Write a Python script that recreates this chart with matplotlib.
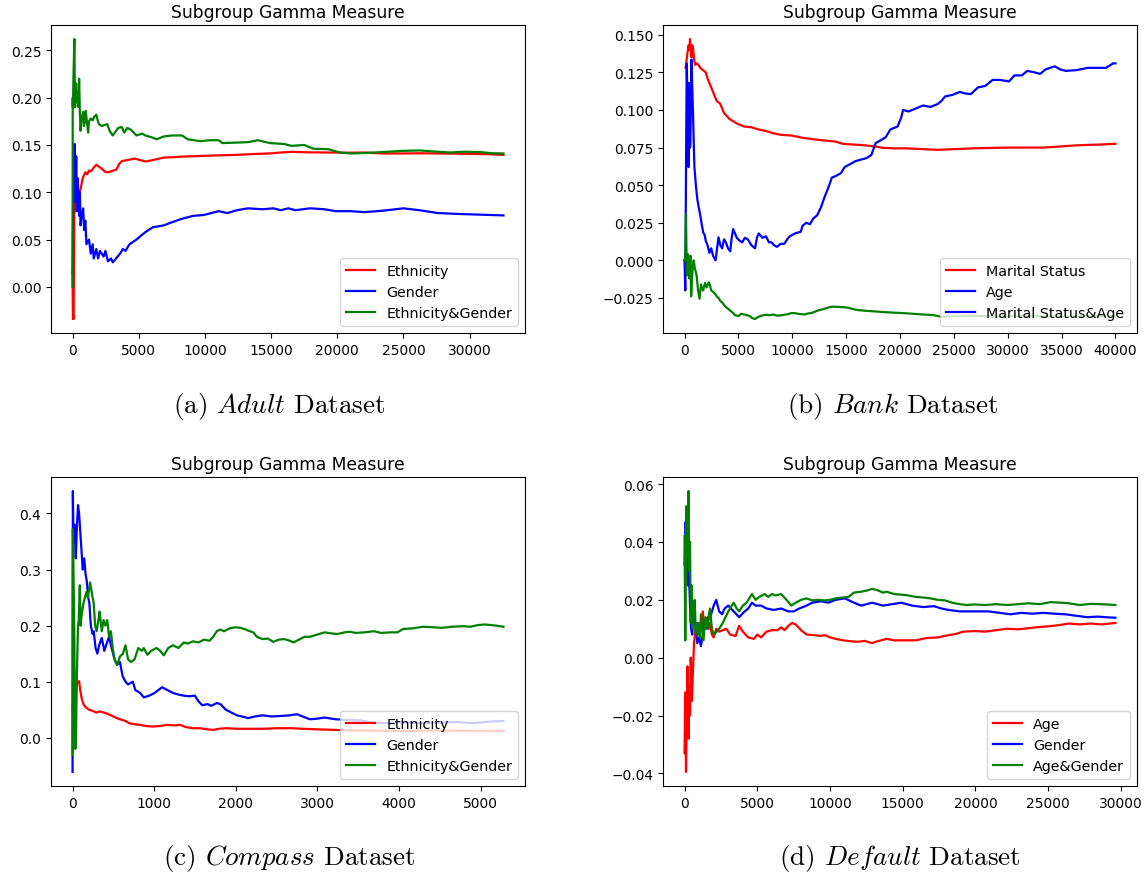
import matplotlib.pyplot as plt

plt.rcParams['mathtext.fontset'] = 'cm'

# ---- Adult ----
adult_eth_x = [0, 28, 55, 83, 138, 193, 248, 304, 386, 469, 552, 635, 718, 828, 966, 1104, 1242, 1380,
               1600, 1794, 1990, 2208, 2430, 2622, 2900, 3312, 3530, 3726, 4140, 4692, 5100, 5520, 6070,
               6900, 7590, 8280, 9100, 9940, 11040, 12420, 13800, 14900, 15730, 16560, 17940, 19320,
               20700, 22080, 23460, 24840, 26220, 27600, 28980, 30360, 31460, 32560]
adult_eth = [0.015, -0.034, -0.030, -0.034, 0.090, 0.080, 0.100, 0.082, 0.095, 0.085, 0.100, 0.105, 0.112,
             0.117, 0.121, 0.119, 0.123, 0.122, 0.126, 0.129, 0.127, 0.125, 0.122, 0.121, 0.122, 0.124,
             0.130, 0.133, 0.134, 0.1356, 0.134, 0.1325, 0.134, 0.1367, 0.137, 0.1377, 0.138, 0.1385,
             0.139, 0.1395, 0.1405, 0.141, 0.142, 0.1427, 0.1422, 0.142, 0.1418, 0.142, 0.141, 0.141,
             0.1412, 0.141, 0.1408, 0.1405, 0.1402, 0.1395]

adult_gen_x = [0, 28, 55, 83, 110, 166, 193, 221, 276, 330, 386, 440, 497, 552, 607, 690, 800, 883, 966,
               1050, 1242, 1380, 1520, 1600, 1794, 1932, 2070, 2346, 2484, 2677, 2900, 3036, 3174, 3400,
               3590, 3800, 4000, 4300, 4830, 5250, 5520, 6070, 6500, 6900, 7450, 8280, 9100, 9940, 11040,
               11700, 12420, 13250, 14350, 15180, 15730, 16300, 16840, 17940, 19040, 19870, 20980, 22080,
               23460, 25000, 26220, 27600, 29260, 30360, 32560]
adult_gen = [0.015, 0.060, 0.110, 0.090, 0.130, 0.151, 0.120, 0.090, 0.138, 0.080, 0.115, 0.100, 0.075,
             0.100, 0.065, 0.075, 0.083, 0.060, 0.070, 0.045, 0.050, 0.035, 0.045, 0.030, 0.040, 0.030,
             0.038, 0.032, 0.038, 0.027, 0.030, 0.026, 0.028, 0.032, 0.035, 0.040, 0.038, 0.045, 0.050,
             0.055, 0.058, 0.063, 0.064, 0.065, 0.068, 0.072, 0.075, 0.076, 0.080, 0.078, 0.081, 0.083,
             0.082, 0.083, 0.081, 0.083, 0.081, 0.083, 0.082, 0.080, 0.080, 0.079, 0.0805, 0.083, 0.081,
             0.078, 0.077, 0.0765, 0.0755]

adult_both_x = [0, 14, 28, 55, 83, 138, 165, 193, 220, 276, 330, 386, 440, 497, 552, 607, 660, 718, 800,
                855, 940, 1000, 1104, 1180, 1242, 1380, 1520, 1650, 1794, 1900, 2000, 2208, 2400, 2622,
                2800, 3036, 3300, 3450, 3726, 3900, 4140, 4420, 4830, 5250, 5500, 6000, 6350, 6900, 7500,
                8280, 8700, 9660, 10400, 11040, 11320, 12420, 13300, 14000, 14900, 16000, 16560, 17500,
                18200, 19320, 20200, 21000, 22080, 23460, 24840, 26220, 27400, 28500, 29600, 30800,
                31700, 32560]
adult_both = [0.0, 0.200, 0.190, 0.210, 0.230, 0.262, 0.220, 0.190, 0.205, 0.215, 0.195, 0.205, 0.190,
              0.220, 0.185, 0.165, 0.175, 0.180, 0.185, 0.170, 0.175, 0.186, 0.172, 0.163, 0.175, 0.178,
              0.176, 0.180, 0.182, 0.176, 0.172, 0.170, 0.171, 0.172, 0.165, 0.160, 0.165, 0.168, 0.169,
              0.163, 0.168, 0.166, 0.160, 0.162, 0.160, 0.158, 0.156, 0.159, 0.160, 0.160, 0.156, 0.154,
              0.155, 0.155, 0.152, 0.1525, 0.153, 0.155, 0.152, 0.151, 0.149, 0.150, 0.146, 0.1455,
              0.142, 0.141, 0.1415, 0.1425, 0.1437, 0.1442, 0.143, 0.142, 0.1428, 0.1425, 0.1412, 0.141]

# ---- Bank ----
bank_mar_x = [100, 170, 271, 373, 441, 509, 577, 645, 712, 780, 882, 984, 1119, 1289, 1459, 1628, 1798,
              1967, 2137, 2307, 2646, 2985, 3324, 3663, 4172, 4851, 5529, 6207, 6886, 7564, 8243, 8921,
              9939, 10956, 11974, 12991, 14009, 14687, 15705, 16723, 17740, 18419, 19436, 20454, 21471,
              22828, 23507, 25203, 26899, 28595, 30291, 31987, 33343, 35039, 36396, 38431, 40000]
bank_mar = [0.128, 0.132, 0.138, 0.143, 0.140, 0.1472, 0.141, 0.135, 0.143, 0.142, 0.134, 0.130, 0.131,
            0.130, 0.128, 0.127, 0.126, 0.125, 0.121, 0.118, 0.112, 0.106, 0.104, 0.098, 0.094, 0.091,
            0.089, 0.0885, 0.087, 0.086, 0.0845, 0.0835, 0.083, 0.0815, 0.0805, 0.0797, 0.079, 0.0775,
            0.077, 0.0765, 0.0757, 0.0748, 0.0745, 0.0745, 0.0742, 0.0737, 0.0735, 0.074, 0.0745,
            0.0748, 0.075, 0.075, 0.075, 0.0758, 0.0765, 0.077, 0.0775]

bank_age_x = [0, 68, 136, 204, 305, 373, 441, 509, 543, 645, 712, 780, 848, 916, 1052, 1187, 1323, 1459,
              1594, 1730, 1866, 1967, 2137, 2307, 2476, 2646, 2883, 3019, 3155, 3324, 3494, 3663, 3833,
              4036, 4240, 4376, 4511, 4681, 4851, 5122, 5359, 5597, 5868, 6207, 6547, 6716, 6886, 7225,
              7564, 7836, 8073, 8311, 8582, 8921, 9260, 9532, 9769, 10278, 10787, 10956, 11295, 11635,
              11974, 12313, 12652, 12991, 13331, 13670, 14009, 14518, 14857, 15366, 15875, 16384, 16892,
              17333, 17740, 18249, 18690, 19097, 19775, 20115, 20284, 20793, 21471, 22149, 22828, 23507,
              23846, 24185, 24864, 25542, 26051, 26560, 27238, 27917, 28595, 29273, 30121, 30630, 31309,
              31818, 32496, 33005, 33514, 34362, 34871, 35379, 36396, 37414, 38431, 39109, 39788, 40000]
bank_age = [0.0, -0.020, 0.060, 0.131, 0.090, 0.062, 0.118, 0.075, 0.080, 0.1335, 0.115, 0.100, 0.080,
            0.062, 0.050, 0.0407, 0.035, 0.030, 0.024, 0.0186, 0.017, 0.013, 0.010, 0.005, 0.008, 0.003,
            0.0, 0.008, 0.0153, 0.010, 0.008, 0.014, 0.012, 0.008, 0.006, 0.015, 0.0208, 0.018, 0.015,
            0.013, 0.012, 0.015, 0.014, 0.010, 0.008, 0.015, 0.0179, 0.015, 0.016, 0.012, 0.012, 0.010,
            0.009, 0.011, 0.011, 0.014, 0.016, 0.018, 0.019, 0.023, 0.025, 0.024, 0.028, 0.030, 0.035,
            0.042, 0.048, 0.055, 0.056, 0.058, 0.062, 0.064, 0.066, 0.067, 0.068, 0.070, 0.078, 0.080,
            0.082, 0.087, 0.089, 0.095, 0.100, 0.099, 0.101, 0.103, 0.102, 0.104, 0.106, 0.109, 0.110,
            0.112, 0.111, 0.1105, 0.115, 0.116, 0.120, 0.120, 0.119, 0.123, 0.123, 0.126, 0.125, 0.124,
            0.127, 0.129, 0.127, 0.126, 0.1265, 0.128, 0.128, 0.128, 0.131, 0.131]

bank_both_x = [0, 68, 136, 170, 237, 305, 373, 441, 475, 543, 611, 679, 712, 780, 848, 950, 1052, 1119,
               1255, 1391, 1526, 1628, 1730, 1900, 2069, 2239, 2340, 2476, 2646, 2815, 2985, 3155, 3324,
               3494, 3833, 4172, 4511, 4681, 5020, 5257, 5529, 5800, 6038, 6309, 6547, 6784, 7056, 7293,
               7564, 7903, 8243, 8582, 8921, 9260, 9599, 9939, 10278, 10617, 11126, 11465, 11804, 12313,
               12652, 12991, 13500, 13839, 14348, 14857, 15196, 15705, 16044, 16723, 17740, 18758, 19436,
               20115, 21132, 22149, 23167, 23846, 24864, 26221, 27578, 28934, 30291, 31987, 33683, 35039,
               36396, 38092, 40000]
bank_both = [0.0, 0.002, 0.0307, 0.010, -0.010, 0.004, 0.002, -0.012, -0.008, 0.003, -0.024, -0.015,
             -0.010, -0.003, 0.0, -0.005, -0.008, -0.010, -0.020, -0.0256, -0.016, -0.019, -0.020, -0.015,
             -0.018, -0.0146, -0.016, -0.020, -0.021, -0.022, -0.024, -0.025, -0.027, -0.028, -0.031,
             -0.033, -0.035, -0.0365, -0.037, -0.0355, -0.036, -0.0365, -0.037, -0.0385, -0.039, -0.0378,
             -0.037, -0.0365, -0.0362, -0.0365, -0.036, -0.0368, -0.0366, -0.0362, -0.0358, -0.035,
             -0.0352, -0.0356, -0.036, -0.0353, -0.035, -0.0335, -0.0328, -0.0322, -0.031, -0.0308,
             -0.031, -0.0312, -0.0315, -0.0325, -0.033, -0.0335, -0.034, -0.0345, -0.0348, -0.035,
             -0.0355, -0.036, -0.0365, -0.0375, -0.0372, -0.037, -0.037, -0.0375, -0.0372, -0.037,
             -0.0372, -0.0375, -0.0372, -0.037, -0.0372]

# ---- Compass ----
comp_eth_x = [0, 18, 40, 58, 80, 94, 112, 134, 157, 201, 246, 291, 335, 380, 425, 470, 514, 559, 604,
              648, 693, 760, 827, 894, 984, 1073, 1163, 1252, 1319, 1386, 1476, 1565, 1655, 1722, 1789,
              1878, 2012, 2191, 2325, 2504, 2683, 2817, 2996, 3220, 3399, 3578, 4025, 4472, 4919, 5278]
comp_eth = [0.050, 0.075, 0.090, 0.098, 0.101, 0.085, 0.070, 0.060, 0.055, 0.050, 0.048, 0.045, 0.047,
            0.045, 0.043, 0.040, 0.037, 0.034, 0.032, 0.030, 0.026, 0.024, 0.023, 0.021, 0.020, 0.021,
            0.023, 0.022, 0.023, 0.019, 0.017, 0.017, 0.015, 0.014, 0.016, 0.017, 0.016, 0.016, 0.016,
            0.017, 0.017, 0.016, 0.015, 0.014, 0.013, 0.013, 0.012, 0.013, 0.012, 0.012]

comp_gen_x = [0, 2, 4, 9, 13, 18, 27, 36, 40, 49, 58, 67, 80, 98, 116, 125, 143, 161, 174, 192, 206,
              224, 246, 259, 282, 304, 326, 358, 389, 411, 447, 470, 514, 546, 581, 613, 649, 680, 738,
              769, 827, 872, 939, 1006, 1051, 1096, 1163, 1230, 1297, 1364, 1431, 1498, 1543, 1588,
              1655, 1700, 1767, 1811, 1878, 1945, 2012, 2102, 2147, 2236, 2325, 2437, 2571, 2661, 2750,
              2817, 2907, 2996, 3086, 3220, 3332, 3533, 3667, 3846, 4025, 4249, 4472, 4696, 4919, 5120,
              5278]
comp_gen = [-0.061, 0.200, 0.440, 0.380, 0.370, 0.375, 0.380, 0.330, 0.320, 0.360, 0.390, 0.415, 0.400,
            0.360, 0.320, 0.300, 0.320, 0.290, 0.280, 0.250, 0.240, 0.200, 0.185, 0.190, 0.160, 0.150,
            0.165, 0.178, 0.155, 0.165, 0.180, 0.165, 0.140, 0.130, 0.135, 0.110, 0.100, 0.095, 0.100,
            0.085, 0.080, 0.072, 0.075, 0.080, 0.085, 0.090, 0.085, 0.080, 0.077, 0.075, 0.074, 0.075,
            0.065, 0.058, 0.060, 0.057, 0.062, 0.060, 0.050, 0.045, 0.040, 0.037, 0.035, 0.038, 0.040,
            0.038, 0.039, 0.040, 0.042, 0.038, 0.033, 0.034, 0.036, 0.033, 0.032, 0.031, 0.027, 0.026,
            0.028, 0.026, 0.027, 0.028, 0.026, 0.029, 0.030]

comp_both_x = [0, 4, 13, 22, 27, 31, 40, 45, 54, 67, 76, 89, 98, 112, 134, 170, 188, 215, 246, 259, 277,
               295, 322, 331, 358, 380, 402, 425, 447, 470, 492, 514, 546, 581, 617, 648, 680, 716, 760,
               805, 850, 872, 917, 961, 1029, 1073, 1118, 1172, 1230, 1297, 1364, 1409, 1476, 1543, 1610,
               1677, 1722, 1767, 1811, 1856, 1923, 1990, 2057, 2124, 2169, 2214, 2258, 2325, 2392, 2459,
               2526, 2594, 2661, 2706, 2773, 2840, 2907, 2996, 3086, 3175, 3243, 3332, 3399, 3466, 3578,
               3690, 3779, 3891, 3980, 4047, 4159, 4293, 4427, 4517, 4651, 4785, 4875, 4964, 5053, 5187,
               5278]
comp_both = [-0.031, 0.372, 0.280, 0.180, 0.050, -0.020, -0.018, 0.030, 0.120, 0.200, 0.210, 0.272,
             0.200, 0.220, 0.240, 0.260, 0.250, 0.277, 0.250, 0.240, 0.200, 0.190, 0.215, 0.225, 0.190,
             0.210, 0.200, 0.210, 0.180, 0.190, 0.160, 0.140, 0.130, 0.145, 0.150, 0.165, 0.140, 0.135,
             0.140, 0.160, 0.155, 0.160, 0.148, 0.155, 0.160, 0.155, 0.147, 0.160, 0.165, 0.160, 0.170,
             0.168, 0.172, 0.170, 0.175, 0.173, 0.180, 0.190, 0.193, 0.190, 0.195, 0.197, 0.196, 0.193,
             0.190, 0.188, 0.180, 0.176, 0.177, 0.171, 0.175, 0.176, 0.173, 0.170, 0.175, 0.180, 0.180,
             0.184, 0.188, 0.186, 0.185, 0.188, 0.189, 0.187, 0.188, 0.190, 0.187, 0.188, 0.188, 0.194,
             0.195, 0.198, 0.197, 0.196, 0.198, 0.199, 0.198, 0.201, 0.202, 0.200, 0.198]

# ---- Default ----
def_age_x = [0, 50, 100, 150, 200, 275, 325, 376, 426, 501, 576, 651, 751, 876, 1002, 1127, 1252, 1377,
             1578, 1678, 1753, 1878, 2003, 2178, 2379, 2629, 2880, 3130, 3506, 3756, 4006, 4382, 4758,
             5008, 5258, 5634, 6010, 6385, 6636, 6886, 7136, 7387, 7637, 8013, 8388, 8889, 9390, 9640,
             10016, 10392, 10892, 11393, 11894, 12395, 12896, 13146, 13522, 13897, 14398, 15149, 15900,
             16652, 17403, 18154, 18655, 19156, 19907, 20658, 21409, 22160, 22912, 23663, 24164, 24915,
             25666, 26417, 27168, 27920, 28671, 29622]
def_age = [-0.033, -0.012, -0.0395, -0.020, -0.003, -0.028, -0.010, -0.020, 0.0, -0.015, -0.005, 0.005,
           0.010, 0.008, 0.012, 0.010, 0.016, 0.010, 0.014, 0.010, 0.012, 0.008, 0.007, 0.010, 0.009,
           0.0095, 0.010, 0.008, 0.0075, 0.011, 0.009, 0.007, 0.0065, 0.008, 0.007, 0.009, 0.0095,
           0.0095, 0.0105, 0.0095, 0.011, 0.012, 0.0115, 0.0095, 0.008, 0.0078, 0.0075, 0.0078, 0.007,
           0.0065, 0.006, 0.0057, 0.0055, 0.0058, 0.005, 0.0055, 0.006, 0.0065, 0.006, 0.006, 0.006,
           0.0068, 0.007, 0.0078, 0.0082, 0.009, 0.0092, 0.009, 0.0095, 0.010, 0.0098, 0.0102, 0.0105,
           0.0108, 0.0112, 0.0118, 0.0115, 0.0118, 0.0115, 0.012]

def_gen_x = [0, 75, 150, 225, 300, 376, 451, 526, 626, 751, 876, 1002, 1127, 1252, 1377, 1503, 1678,
             1828, 2003, 2178, 2379, 2579, 2754, 3005, 3380, 3756, 4131, 4382, 4633, 4883, 5258, 5634,
             6135, 6636, 7136, 7512, 7887, 8388, 8764, 9390, 9890, 10392, 11017, 11643, 12144, 12520,
             12896, 13271, 13647, 14273, 14899, 15650, 16401, 17152, 17653, 18154, 18906, 19907, 20908,
             21660, 22411, 23162, 23913, 24664, 25416, 26167, 26918, 27669, 28420, 28921, 29622]
def_gen = [0.032, 0.047, 0.036, 0.025, 0.030, 0.018, 0.010, 0.008, 0.015, 0.011, 0.005, 0.007, 0.004,
           0.008, 0.012, 0.010, 0.014, 0.015, 0.018, 0.020, 0.016, 0.015, 0.017, 0.018, 0.016, 0.014,
           0.016, 0.017, 0.019, 0.018, 0.018, 0.017, 0.0165, 0.017, 0.016, 0.016, 0.017, 0.018, 0.019,
           0.0195, 0.019, 0.020, 0.0205, 0.019, 0.018, 0.0185, 0.019, 0.0185, 0.018, 0.0185, 0.019,
           0.018, 0.0175, 0.0178, 0.017, 0.0165, 0.016, 0.016, 0.016, 0.0155, 0.015, 0.0155, 0.0152,
           0.0155, 0.0152, 0.015, 0.0145, 0.014, 0.0142, 0.014, 0.0138]

def_both_x = [0, 50, 125, 175, 275, 325, 376, 426, 476, 551, 626, 701, 776, 876, 951, 1052, 1127, 1202,
              1302, 1427, 1578, 1678, 1753, 1878, 2003, 2128, 2379, 2629, 3005, 3380, 3581, 3756, 4006,
              4257, 4633, 4883, 5133, 5509, 5759, 6010, 6260, 6636, 7011, 7337, 7637, 8013, 8388, 8764,
              9140, 9640, 10016, 10392, 10892, 11268, 11643, 12144, 12520, 12896, 13271, 13647, 13897,
              14398, 14899, 15400, 15900, 16401, 16902, 17403, 17904, 18405, 18906, 19406, 19907, 20658,
              21409, 22160, 22912, 23663, 24414, 25165, 25917, 26417, 27168, 27920, 28671, 29622]
def_both = [0.042, 0.006, 0.0524, 0.035, 0.0576, 0.030, 0.040, 0.012, 0.025, 0.010, 0.018, 0.020, 0.008,
            0.012, 0.010, 0.007, 0.015, 0.010, 0.006, 0.014, 0.010, 0.015, 0.017, 0.010, 0.008, 0.0085,
            0.010, 0.012, 0.016, 0.019, 0.017, 0.016, 0.018, 0.019, 0.022, 0.020, 0.021, 0.022, 0.021,
            0.022, 0.0215, 0.022, 0.020, 0.018, 0.019, 0.020, 0.0205, 0.0198, 0.020, 0.0198, 0.020,
            0.0205, 0.0208, 0.021, 0.0225, 0.0228, 0.0232, 0.0238, 0.0233, 0.0225, 0.0228, 0.022,
            0.0218, 0.0215, 0.021, 0.0208, 0.0205, 0.020, 0.0198, 0.019, 0.0185, 0.0182, 0.0184, 0.0182,
            0.0185, 0.0182, 0.0185, 0.0188, 0.0185, 0.0192, 0.019, 0.0188, 0.0182, 0.0186, 0.0185,
            0.0182]

W, H = 1146, 879
fig = plt.figure(figsize=(W / 100, H / 100), dpi=100)


def box(left, top, right, bottom):
    # pixel box -> figure fraction
    return [left / W, 1 - bottom / H, (right - left) / W, (bottom - top) / H]


def panel(rect, series, labels, legend_colors=None):
    ax = fig.add_axes(rect)
    lines = []
    for (x, y, c), lab in zip(series, labels):
        ln, = ax.plot(x, y, color=c, lw=1.6, label=lab)
        lines.append(ln)
    ax.set_title('Subgroup Gamma Measure', fontsize=12.3)
    ax.tick_params(labelsize=9.9)
    if legend_colors is None:
        ax.legend(loc='lower right', fontsize=10.3)
    else:
        # legend handles are taken by colour, the last entry reuses the blue line
        handles = [lines[['red', 'blue', 'green'].index(c)] for c in legend_colors]
        ax.legend(handles, labels, loc='lower right', fontsize=10.3)
    return ax


panel(box(51, 26, 525, 334),
      [(adult_eth_x, adult_eth, 'red'), (adult_gen_x, adult_gen, 'blue'), (adult_both_x, adult_both, 'green')],
      ['Ethnicity', 'Gender', 'Ethnicity&Gender'])
panel(box(663, 26, 1137, 334),
      [(bank_mar_x, bank_mar, 'red'), (bank_age_x, bank_age, 'blue'), (bank_both_x, bank_both, 'green')],
      ['Marital Status', 'Age', 'Marital Status&Age'], legend_colors=['red', 'blue', 'blue'])
panel(box(51, 478, 525, 787),
      [(comp_eth_x, comp_eth, 'red'), (comp_gen_x, comp_gen, 'blue'), (comp_both_x, comp_both, 'green')],
      ['Ethnicity', 'Gender', 'Ethnicity&Gender'])
panel(box(663, 478, 1137, 787),
      [(def_age_x, def_age, 'red'), (def_gen_x, def_gen, 'blue'), (def_both_x, def_both, 'green')],
      ['Age', 'Gender', 'Age&Gender'])

captions = [(279, 407, r'(a) $Adult$ Dataset'), (893, 407, r'(b) $Bank$ Dataset'),
            (289, 859, r'(c) $Compass$ Dataset'), (900, 859, r'(d) $Default$ Dataset')]
for cx, cy, txt in captions:
    fig.text(cx / W, 1 - cy / H, txt, ha='center', va='center', fontsize=19.5, family='cmr10')

fig.savefig('out.png', dpi=100)
